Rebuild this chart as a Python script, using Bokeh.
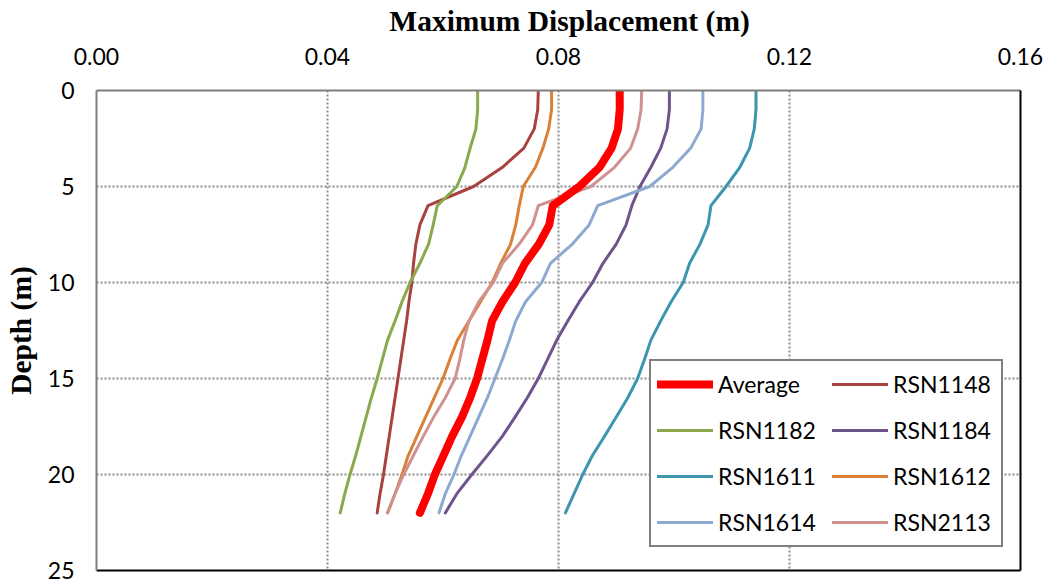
from bokeh.plotting import figure
from bokeh.models import (Range1d, FixedTicker, NumeralTickFormatter, LinearAxis,
                          Legend, LegendItem)
from bokeh.embed import file_html
from bokeh.resources import INLINE

# Depth below surface (m)
depth = list(range(0, 23))

# Maximum displacement (m) at each depth, per ground motion record
average = [0.0906, 0.0906, 0.0903, 0.0892, 0.0871, 0.0836, 0.0790, 0.0784, 0.0766, 0.0742,
           0.0725, 0.0703, 0.0685, 0.0677, 0.0668, 0.0659, 0.0647, 0.0633, 0.0616, 0.0601,
           0.0586, 0.0574, 0.0560]
rsn1148 = [0.0765, 0.0764, 0.0758, 0.0740, 0.0703, 0.0653, 0.0574, 0.0560, 0.0553, 0.0549,
           0.0546, 0.0541, 0.0537, 0.0532, 0.0527, 0.0522, 0.0517, 0.0512, 0.0507, 0.0502,
           0.0497, 0.0491, 0.0486]
rsn1182 = [0.0660, 0.0660, 0.0657, 0.0647, 0.0638, 0.0624, 0.0590, 0.0583, 0.0575, 0.0560,
           0.0543, 0.0529, 0.0517, 0.0504, 0.0495, 0.0486, 0.0476, 0.0467, 0.0458, 0.0449,
           0.0439, 0.0430, 0.0422]
rsn1184 = [0.0992, 0.0992, 0.0988, 0.0977, 0.0960, 0.0941, 0.0927, 0.0917, 0.0900, 0.0877,
           0.0859, 0.0836, 0.0816, 0.0797, 0.0781, 0.0765, 0.0746, 0.0725, 0.0703, 0.0677,
           0.0650, 0.0624, 0.0604]
rsn1611 = [0.1142, 0.1142, 0.1139, 0.1131, 0.1114, 0.1090, 0.1064, 0.1059, 0.1045, 0.1027,
           0.1016, 0.0995, 0.0977, 0.0960, 0.0949, 0.0937, 0.0920, 0.0900, 0.0880, 0.0859,
           0.0842, 0.0827, 0.0812]
rsn1612 = [0.0788, 0.0788, 0.0783, 0.0773, 0.0760, 0.0739, 0.0732, 0.0726, 0.0717, 0.0700,
           0.0685, 0.0665, 0.0645, 0.0625, 0.0612, 0.0600, 0.0585, 0.0570, 0.0555, 0.0540,
           0.0529, 0.0517, 0.0504]
rsn1614 = [0.1050, 0.1050, 0.1047, 0.1029, 0.0998, 0.0958, 0.0868, 0.0853, 0.0824, 0.0786,
           0.0771, 0.0743, 0.0726, 0.0715, 0.0703, 0.0690, 0.0677, 0.0662, 0.0647, 0.0632,
           0.0619, 0.0604, 0.0593]
rsn2113 = [0.0944, 0.0943, 0.0937, 0.0925, 0.0897, 0.0856, 0.0765, 0.0755, 0.0732, 0.0703,
           0.0687, 0.0662, 0.0645, 0.0636, 0.0629, 0.0621, 0.0604, 0.0584, 0.0566, 0.0549,
           0.0532, 0.0517, 0.0504]

x_ticks = [0.0, 0.04, 0.08, 0.12, 0.16]
y_ticks = [0, 5, 10, 15, 20, 25]

TICK_FONT = "Lato"
LABEL_FONT = "Liberation Serif"

p = figure(width=1043, height=585, output_backend="svg", toolbar_location=None,
           x_range=Range1d(0, 0.16), y_range=Range1d(25, 0),
           x_axis_location="above",
           min_border_left=96, min_border_right=23, min_border_top=90, min_border_bottom=15)
p.background_fill_color = "white"
p.border_fill_color = "white"
p.outline_line_color = None

# Axes (non-breaking spaces nudge the top label slightly right of centre)
xa = p.xaxis[0]
xa.ticker = FixedTicker(ticks=x_ticks)
xa.formatter = NumeralTickFormatter(format="0.00")
xa.axis_label = "\u00a0\u00a0\u00a0Maximum Displacement (m)"
ya = p.yaxis[0]
ya.ticker = FixedTicker(ticks=y_ticks)
ya.axis_label = "Depth (m)"
for ax in (xa, ya):
    ax.axis_line_color = "#7f7f7f"
    ax.axis_line_width = 2
    ax.major_tick_line_color = None
    ax.minor_tick_line_color = None
    ax.major_tick_out = 0
    ax.major_tick_in = 0
    ax.minor_tick_out = 0
    ax.minor_tick_in = 0
    ax.major_label_text_font = TICK_FONT
    ax.major_label_text_font_size = "23px"
    ax.major_label_text_color = "black"
    ax.axis_label_text_font = LABEL_FONT
    ax.axis_label_text_font_style = "bold"
    ax.axis_label_text_color = "black"
    ax.axis_label_text_font_size = "29.5px"
xa.major_label_standoff = 26
xa.axis_label_standoff = 8
ya.major_label_standoff = 22
ya.axis_label_standoff = 8

# Black frame edges on the right and bottom
for side in ("right", "below"):
    edge = LinearAxis(ticker=FixedTicker(ticks=[]), axis_line_color="black",
                      axis_line_width=2, major_tick_line_color=None,
                      minor_tick_line_color=None, major_tick_out=0, major_tick_in=0,
                      major_label_text_font_size="0px", major_label_standoff=0)
    p.add_layout(edge, side)

# Dotted grid
p.xgrid.ticker = FixedTicker(ticks=x_ticks[1:-1])
p.ygrid.ticker = FixedTicker(ticks=y_ticks[1:-1])
for g in (p.xgrid, p.ygrid):
    g.grid_line_color = "#8c8c8c"
    g.grid_line_width = 2
    g.grid_line_dash = "2 2"

series = [
    ("RSN1148", rsn1148, "#A8423F"),
    ("RSN1182", rsn1182, "#8AA84C"),
    ("RSN1184", rsn1184, "#6E548D"),
    ("RSN1611", rsn1611, "#3D96AE"),
    ("RSN1612", rsn1612, "#DA8137"),
    ("RSN1614", rsn1614, "#8EA9D1"),
    ("RSN2113", rsn2113, "#D09290"),
]

renderers = {}
for name, vals, color in series:
    renderers[name] = p.line(vals, depth, line_color=color, line_width=3,
                             line_join="round", line_cap="round")
renderers["Average"] = p.line(average, depth, line_color="#FF0000", line_width=8,
                              line_join="round", line_cap="round")

order = ["Average", "RSN1148", "RSN1182", "RSN1184", "RSN1611", "RSN1612", "RSN1614", "RSN2113"]
legend = Legend(items=[LegendItem(label=n, renderers=[renderers[n]]) for n in order],
                orientation="horizontal", ncols=2,
                location=(553, 23),
                glyph_width=56, glyph_height=34, label_height=34, label_width=102,
                label_standoff=5, spacing=12, padding=6, margin=0,
                label_text_font=TICK_FONT, label_text_font_size="23px",
                label_text_color="black",
                border_line_color="black", border_line_width=2,
                background_fill_color="white", background_fill_alpha=1.0)
p.add_layout(legend)

open("out.html", "w").write(file_html(p, INLINE))
